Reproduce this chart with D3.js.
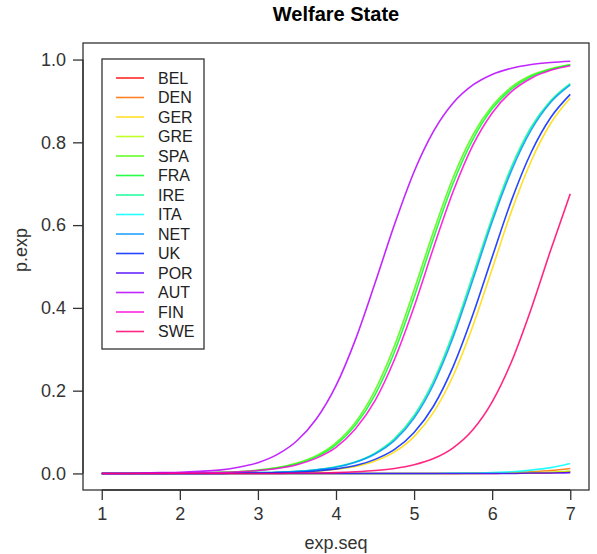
<!DOCTYPE html>
<html>
<head>
<meta charset="utf-8">
<script src="https://cdnjs.cloudflare.com/ajax/libs/d3/7.8.5/d3.min.js"></script>
<style>
  body { margin: 0; background: #fff; }
  text { font-family: "Liberation Sans", Arial, sans-serif; fill: #222; }
</style>
</head>
<body>
<svg id="chart" width="597" height="554"></svg>
<script>
// Data ***********************************************************************
var expSeq = [1, 1.25, 1.5, 1.75, 2, 2.25, 2.5, 2.75, 3, 3.25, 3.5, 3.75, 4,
              4.25, 4.5, 4.75, 5, 5.25, 5.5, 5.75, 6, 6.25, 6.5, 6.75, 7]

var pBEL = [0,0,0,0,0,0,0,0,0,0,0,0,0,0,0,0,0,0,0,0,0, 0.001,0.001,0.002,0.004]
var pDEN = [0,0,0,0,0,0,0,0,0,0,0,0,0,0,0,0,0,0,0, 0.001,0.001,0.002,0.004,0.007,0.012]
var pGER = [0,0,0,0,0,0,0, 0.001,0.001,0.002,0.003,0.005,0.010,0.017,0.030,0.052,0.089,0.148,0.236,0.355,0.494,0.635,0.755,0.846,0.907]
var pGRE = [0,0,0,0,0,0,0,0,0,0,0,0,0,0,0,0,0,0,0,0, 0.001,0.001,0.002,0.003,0.006]
var pSPA = [0,0,0,0, 0.001,0.001,0.003,0.004,0.008,0.014,0.025,0.043,0.074,0.124,0.201,0.309,0.443,0.585,0.715,0.817,0.888,0.934,0.962,0.978,0.988]
var pFRA = [0,0,0,0, 0.001,0.001,0.002,0.004,0.007,0.013,0.023,0.040,0.069,0.117,0.190,0.294,0.426,0.569,0.701,0.806,0.881,0.929,0.959,0.976,0.987]
var pIRE = [0,0,0,0,0,0, 0.001,0.001,0.002,0.003,0.005,0.009,0.016,0.028,0.049,0.084,0.140,0.224,0.339,0.477,0.618,0.742,0.837,0.901,0.942]
var pITA = [0,0,0,0,0,0,0,0,0,0,0,0,0,0,0,0,0,0, 0.001,0.001,0.002,0.004,0.008,0.014,0.024]
var pNET = [0,0,0,0,0,0,0, 0.001,0.002,0.003,0.005,0.009,0.015,0.027,0.047,0.080,0.134,0.216,0.329,0.466,0.608,0.733,0.830,0.897,0.939]
var pUK  = [0,0,0,0,0,0,0, 0.001,0.001,0.002,0.003,0.006,0.011,0.019,0.034,0.058,0.099,0.163,0.258,0.382,0.523,0.661,0.776,0.860,0.916]
var pPOR = [0,0,0,0,0,0,0,0,0,0,0,0,0,0,0,0,0,0,0,0,0,0, 0.001,0.001,0.002]
var pAUT = [0,0, 0.001,0.002,0.003,0.005,0.008,0.015,0.026,0.046,0.079,0.132,0.212,0.324,0.460,0.602,0.729,0.827,0.895,0.938,0.964,0.979,0.988,0.993,0.996]
var pFIN = [0,0,0,0, 0.001,0.001,0.002,0.004,0.007,0.012,0.021,0.037,0.063,0.108,0.176,0.276,0.403,0.546,0.681,0.792,0.871,0.923,0.955,0.974,0.985]
var pSWE = [0,0,0,0,0,0,0,0,0,0, 0.001,0.001,0.002,0.004,0.007,0.012,0.021,0.036,0.062,0.105,0.173,0.271,0.398,0.540,0.676]

var countries = ["BEL", "DEN", "GER", "GRE", "SPA", "FRA", "IRE", "ITA", "NET", "UK", "POR", "AUT", "FIN", "SWE"]
var series = [pBEL, pDEN, pGER, pGRE, pSPA, pFRA, pIRE, pITA, pNET, pUK, pPOR, pAUT, pFIN, pSWE]

// R's rainbow(14)
var lineCols = ["#FF0000", "#FF6D00", "#FFDB00", "#B6FF00", "#49FF00", "#00FF24", "#00FF92",
                "#00FFFF", "#0092FF", "#0024FF", "#4900FF", "#B600FF", "#FF00DB", "#FF006D"]

var xTicks = [1, 2, 3, 4, 5, 6, 7]
var yTicks = [0, 0.2, 0.4, 0.6, 0.8, 1.0]

// Layout *********************************************************************
var svg = d3.select("#chart")

var x = d3.scaleLinear().domain([0.76, 7.24]).range([83, 589])
var y = d3.scaleLinear().domain([-0.04, 1.04]).range([490, 43])

// plot box
svg.append("rect")
    .attr("x", 83).attr("y", 43)
    .attr("width", 506).attr("height", 447)
    .style("fill", "none")
    .style("stroke", "#333")
    .style("stroke-width", 1.3)

// x axis
var xAxis = svg.append("g").attr("transform", "translate(0,490)")
    .call(d3.axisBottom(x).tickValues(xTicks).tickFormat(d3.format("d")).tickSize(10).tickPadding(7))
xAxis.select(".domain").attr("d", "M" + x(1) + ",0H" + x(7)).style("stroke", "#333").style("stroke-width", 1.3)
xAxis.selectAll(".tick line").style("stroke", "#333").style("stroke-width", 1.3)
xAxis.selectAll("text").style("font-size", "18px").style("font-family", "Liberation Sans, Arial").style("fill", "#333")

// y axis
var yAxis = svg.append("g").attr("transform", "translate(83,0)")
    .call(d3.axisLeft(y).tickValues(yTicks).tickFormat(d3.format(".1f")).tickSize(10).tickPadding(7))
yAxis.select(".domain").attr("d", "M0," + y(0) + "V" + y(1)).style("stroke", "#333").style("stroke-width", 1.3)
yAxis.selectAll(".tick line").style("stroke", "#333").style("stroke-width", 1.3)
yAxis.selectAll("text").style("font-size", "18px").style("font-family", "Liberation Sans, Arial").style("fill", "#333")

// titles
svg.append("text").attr("x", 336).attr("y", 21).attr("text-anchor", "middle")
    .text("Welfare State").style("font-size", "20px").style("font-weight", "bold").style("fill", "#000")
svg.append("text").attr("x", 336).attr("y", 549).attr("text-anchor", "middle")
    .text("exp.seq").style("font-size", "18px").style("fill", "#333")
svg.append("text").attr("transform", "translate(27,250) rotate(-90)").attr("text-anchor", "middle")
    .text("p.exp").style("font-size", "18px").style("fill", "#333")

// Curves *********************************************************************
var line = d3.line()
    .x(function(d, i){ return x(expSeq[i]) })
    .y(function(d){ return y(d) })
    .curve(d3.curveMonotoneX)

for (key in series){
    svg.append("path")
        .attr("d", line(series[key]))
        .style("fill", "none")
        .style("stroke", lineCols[key])
        .style("stroke-width", 1.6)
        .style("stroke-opacity", 0.85)
}

// Legend *********************************************************************
var yLegend_Pos = 78
for (key in countries){
    svg.append("line").attr("x1", 116).attr("x2", 144).attr("y1", yLegend_Pos).attr("y2", yLegend_Pos)
        .style("stroke", lineCols[key]).style("stroke-width", 1.6).style("stroke-opacity", 0.85)
    svg.append("text").attr("x", 158).attr("y", yLegend_Pos).text(countries[key])
        .style("font-size", "16px").style("fill", "#222").attr("dominant-baseline", "central")
    yLegend_Pos = yLegend_Pos + 19.5
}
svg.append("rect") // outline for legend
    .attr("x", 102).attr("y", 59)
    .attr("width", 102).attr("height", 290)
    .style("fill", "none")
    .style("stroke", "#333")
    .style("stroke-width", 1.3)
</script>
</body>
</html>
